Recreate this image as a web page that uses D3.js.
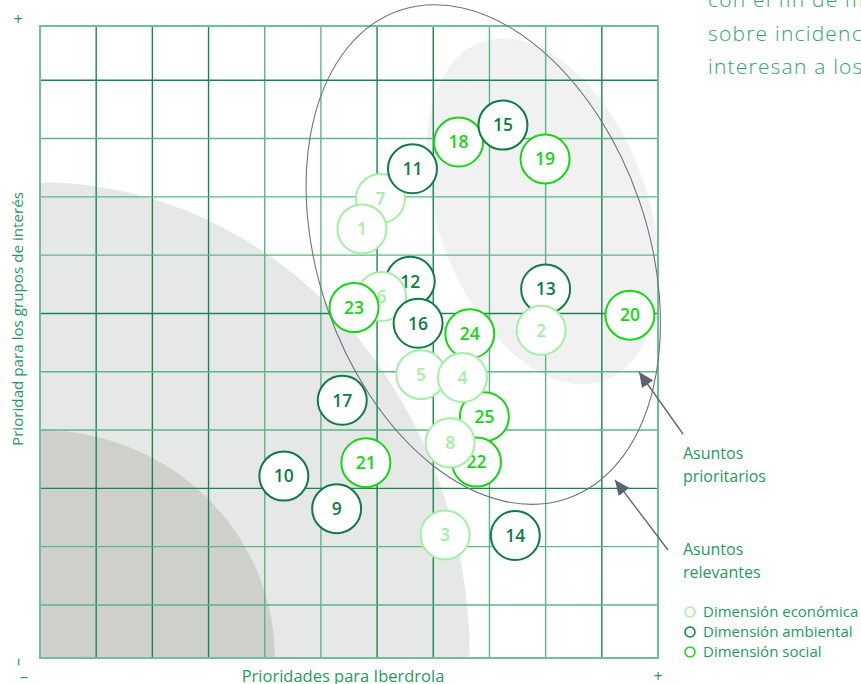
<!DOCTYPE html>
<html>
<head>
<meta charset="utf-8">
<script src="https://cdn.jsdelivr.net/npm/d3@7"></script>
<style>
  html, body { margin: 0; padding: 0; background: #fff; }
  svg { display: block; }
  text { font-family: "Open Sans", Lato, sans-serif; }
</style>
</head>
<body>
<svg id="chart" width="861" height="684"></svg>
<script>
// ---- data ----
const issueIds = [1,2,3,4,5,6,7,8,9,10,11,12,13,14,15,16,17,18,19,20,21,22,23,24,25];
const prioridadIberdrola = [5.73, 8.92, 7.21, 7.52, 6.78, 6.08, 6.06, 7.30, 5.28, 4.34, 6.63, 6.59, 9.00, 8.46, 8.24, 6.73, 5.38, 7.45, 8.99, 10.50, 5.80, 7.77, 5.59, 7.65, 7.91];
const prioridadGrupos   = [7.45, 5.71, 2.20, 4.90, 4.95, 6.29, 7.97, 3.78, 2.65, 3.21, 8.48, 6.55, 6.42, 2.19, 9.23, 5.83, 4.51, 8.94, 8.65, 5.97, 3.44, 3.45, 6.10, 5.65, 4.23];
const dimension = ["eco","eco","eco","eco","eco","eco","eco","eco",
                   "amb","amb","amb","amb","amb","amb","amb","amb","amb",
                   "soc","soc","soc","soc","soc","soc","soc","soc"];
const drawOrder = [7,12,13,24,25,22,18,15,11,19,1,6,23,16,5,4,2,8,3,14,9,10,17,21,20];
const legendLabels = ["Dimensión económica","Dimensión ambiental","Dimensión social"];
const legendKeys = ["eco","amb","soc"];
const xTicks = [0,1,2,3,4,5,6,7,8,9,10,11];
const yTicks = [1,2,3,4,5,6,7,8,9,10];

// ---- styles ----
const colors = { eco: "#a3f0a3", amb: "#0f7c47", soc: "#16d616" };
const textGreen = "#1f9a5c";
const svg = d3.select("#chart");

const x = d3.scaleLinear().domain([0, 11]).range([40, 658]);
const y = d3.scaleLinear().domain([0.09, 10.93]).range([658, 26]);

const defs = svg.append("defs");
defs.append("clipPath").attr("id", "plotClip")
  .append("rect").attr("x", x(0)).attr("y", y(10.93))
  .attr("width", x(11) - x(0)).attr("height", y(0.09) - y(10.93));
defs.append("marker").attr("id", "arrowHead")
  .attr("viewBox", "0 0 10 10").attr("refX", 10).attr("refY", 5)
  .attr("markerWidth", 15).attr("markerHeight", 15).attr("markerUnits", "userSpaceOnUse")
  .attr("orient", "auto")
  .append("path").attr("d", "M0,0.5 L10,5 L0,9.5 Z").attr("fill", "#5c6272");

// ---- background zones ----
const bg = svg.append("g").attr("clip-path", "url(#plotClip)");
bg.append("ellipse")
  .attr("cx", x(0)).attr("cy", y(0.09))
  .attr("rx", x(7.65) - x(0)).attr("ry", y(0.09) - y(8.25))
  .attr("fill", "#e6e8e8");
bg.append("ellipse")
  .attr("cx", x(0)).attr("cy", y(0.09))
  .attr("rx", x(4.18) - x(0)).attr("ry", y(0.09) - y(4.0))
  .attr("fill", "#cfd0cc");
const blobCx = x(8.95), blobCy = y(7.75);
bg.append("ellipse")
  .attr("cx", blobCx).attr("cy", blobCy)
  .attr("rx", 105).attr("ry", 180)
  .attr("transform", `rotate(-20, ${blobCx}, ${blobCy})`)
  .attr("fill", "#f1f1f1");

// ---- grid ----
const darkV = new Set([1,2,3,6,7,10]);
const darkH = new Set([3,6,10]);
const grid = svg.append("g");
grid.selectAll("line.v").data(xTicks).join("line").attr("class", "v")
  .attr("x1", d => x(d)).attr("x2", d => x(d))
  .attr("y1", y(0.09)).attr("y2", y(10.93))
  .attr("stroke", (d,i) => darkV.has(i) ? "#16874e" : "#5db687")
  .attr("stroke-width", 1.4);
grid.selectAll("line.h").data([0.09].concat(yTicks, [10.93])).join("line").attr("class", "h")
  .attr("x1", x(0)).attr("x2", x(11))
  .attr("y1", d => y(d)).attr("y2", d => y(d))
  .attr("stroke", d => darkH.has(d) ? "#16874e" : "#5db687")
  .attr("stroke-width", 1.4);
grid.append("rect").attr("x", x(0)).attr("y", y(10.93))
  .attr("width", x(11) - x(0)).attr("height", y(0.09) - y(10.93))
  .attr("fill", "none").attr("stroke", "#6fc097").attr("stroke-width", 2);

// ---- priority ellipse ----
const eCx = x(7.89), eCy = y(7.01);
svg.append("ellipse")
  .attr("cx", eCx).attr("cy", eCy).attr("rx", 165).attr("ry", 258)
  .attr("transform", `rotate(-19, ${eCx}, ${eCy})`)
  .attr("fill", "none").attr("stroke", "#6f7280").attr("stroke-width", 1.1);

// ---- bubbles ----
const points = issueIds.map((id, i) => ({
  id, x: prioridadIberdrola[i], y: prioridadGrupos[i], dim: dimension[i]
}));
const ordered = drawOrder.map(id => points.find(p => p.id === id));
const bubbles = svg.append("g").selectAll("g").data(ordered).join("g")
  .attr("transform", d => `translate(${x(d.x)},${y(d.y)})`);
bubbles.append("circle").attr("r", 24.5)
  .attr("fill", "#fff").attr("stroke", d => colors[d.dim]).attr("stroke-width", 2);
bubbles.append("text").text(d => d.id)
  .attr("text-anchor", "middle").attr("dy", "0.36em")
  .attr("font-family", "Lato, sans-serif")
  .attr("font-size", 17.5).attr("font-weight", 600)
  .attr("fill", d => colors[d.dim]);

// ---- arrows & annotations ----
const arrows = [
  { from: [683, 434], to: [639, 372] },
  { from: [668, 550], to: [615, 480] }
];
svg.append("g").selectAll("line").data(arrows).join("line")
  .attr("x1", d => d.from[0]).attr("y1", d => d.from[1])
  .attr("x2", d => d.to[0]).attr("y2", d => d.to[1])
  .attr("stroke", "#5c6272").attr("stroke-width", 1.3)
  .attr("marker-end", "url(#arrowHead)");

const notes = [
  { lines: ["Asuntos", "prioritarios"], y: 459 },
  { lines: ["Asuntos", "relevantes"], y: 555 }
];
notes.forEach(n => {
  const t = svg.append("text").attr("x", 683).attr("y", n.y)
    .attr("font-size", 16).attr("fill", textGreen);
  n.lines.forEach((l, i) => t.append("tspan").attr("x", 683).attr("dy", i ? 23 : 0).text(l));
});

// ---- legend ----
const legend = svg.append("g").selectAll("g").data(legendKeys).join("g")
  .attr("transform", (d, i) => `translate(690, ${612 + i * 20})`);
legend.append("circle").attr("r", 5).attr("fill", "#fff")
  .attr("stroke", d => colors[d]).attr("stroke-width", 1.5);
legend.append("text").attr("x", 13).attr("dy", "0.35em")
  .attr("font-size", 15).attr("fill", textGreen)
  .text((d, i) => legendLabels[i]);

// ---- axis labels ----
svg.append("text").attr("x", 343).attr("y", 682).attr("text-anchor", "middle")
  .attr("font-size", 16.5).attr("fill", textGreen).text("Prioridades para Iberdrola");
svg.append("text").attr("x", 24).attr("y", 682).attr("text-anchor", "middle")
  .attr("font-size", 16).attr("fill", textGreen).text("–");
svg.append("text").attr("x", 658).attr("y", 682).attr("text-anchor", "middle")
  .attr("font-size", 16).attr("fill", textGreen).text("+");
svg.append("text").attr("transform", "translate(23,319) rotate(-90)")
  .attr("text-anchor", "middle").attr("font-size", 15.2).attr("fill", textGreen)
  .text("Prioridad para los grupos de interés");
svg.append("text").attr("transform", "translate(23,662) rotate(-90)")
  .attr("text-anchor", "middle").attr("font-size", 16).attr("fill", textGreen).text("–");
svg.append("text").attr("x", 18).attr("y", 25).attr("text-anchor", "middle")
  .attr("font-size", 16).attr("fill", textGreen).text("+");

// ---- cut-off texts at top ----
svg.append("text").attr("x", 57).attr("y", 0)
  .attr("font-size", 20).attr("font-weight", 300).attr("fill", "#a6e0c3")
  .text("Matriz de materialidad de Iberdrola");
const topRight = ["con el fin de mejorar", "sobre incidencias", "interesan a los grupos"];
svg.append("g").selectAll("text").data(topRight).join("text")
  .attr("x", 708).attr("y", (d, i) => 7 + i * 33.5)
  .attr("font-size", 21).attr("font-weight", 300).attr("letter-spacing", 1.2)
  .attr("fill", "#2fa56a")
  .text(d => d);
</script>
</body>
</html>
